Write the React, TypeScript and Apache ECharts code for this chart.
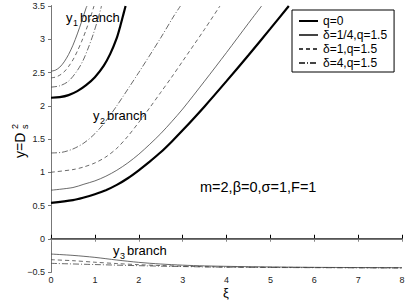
import React, { useEffect, useRef } from "react";
import * as echarts from "echarts";

// Legend names
const names = ["q=0", "δ=1/4,q=1.5", "δ=1,q=1.5", "δ=4,q=1.5"];

// Axis ticks
const xTicks = [0, 1, 2, 3, 4, 5, 6, 7, 8];
const yTicks = [-0.5, 0, 0.5, 1, 1.5, 2, 2.5, 3, 3.5];

// y1 branch
const q0_y1 = [[0, 2.12], [0.2, 2.13], [0.4, 2.16], [0.6, 2.22], [0.8, 2.31], [1.0, 2.43], [1.2, 2.6], [1.35, 2.78], [1.5, 3.02], [1.58, 3.2], [1.66, 3.4], [1.7, 3.5]];
const d14_y1 = [[0, 2.52], [0.1, 2.535], [0.2, 2.58], [0.3, 2.66], [0.4, 2.77], [0.5, 2.91], [0.6, 3.08], [0.7, 3.27], [0.8, 3.47], [0.82, 3.5]];
const d1_y1 = [[0, 2.42], [0.1, 2.43], [0.2, 2.46], [0.3, 2.51], [0.4, 2.59], [0.5, 2.69], [0.6, 2.82], [0.7, 2.97], [0.8, 3.14], [0.9, 3.33], [0.98, 3.5]];
const d4_y1 = [[0, 2.28], [0.2, 2.3], [0.4, 2.37], [0.6, 2.53], [0.73, 2.68], [0.85, 2.87], [0.96, 3.07], [1.05, 3.26], [1.14, 3.47], [1.15, 3.5]];

// y2 branch
const q0_y2 = [[0, 0.54], [0.5, 0.58], [0.75, 0.62], [1.0, 0.67], [1.25, 0.73], [1.5, 0.81], [1.75, 0.91], [2.0, 1.03], [2.25, 1.16], [2.5, 1.3], [2.75, 1.46], [3.0, 1.63], [3.5, 1.99], [4.0, 2.37], [4.5, 2.76], [5.0, 3.16], [5.42, 3.5]];
const d14_y2 = [[0, 0.73], [0.5, 0.77], [0.75, 0.82], [1.0, 0.87], [1.25, 0.94], [1.5, 1.03], [1.75, 1.14], [2.0, 1.27], [2.25, 1.42], [2.5, 1.58], [2.75, 1.76], [3.0, 1.95], [3.5, 2.37], [4.0, 2.8], [4.5, 3.24], [4.8, 3.5]];
const d1_y2 = [[0, 1.0], [0.5, 1.04], [0.75, 1.08], [1.0, 1.14], [1.25, 1.23], [1.5, 1.36], [1.75, 1.54], [2.0, 1.75], [2.25, 1.97], [2.5, 2.2], [2.75, 2.43], [3.0, 2.67], [3.5, 3.15], [3.85, 3.5]];
const d4_y2 = [[0, 1.29], [0.25, 1.3], [0.5, 1.35], [0.75, 1.44], [1.0, 1.58], [1.25, 1.77], [1.5, 2.0], [2.0, 2.5], [2.5, 3.02], [2.8, 3.35], [2.95, 3.5]];

// y3 branch
const d14_y3 = [[0, -0.23], [0.5, -0.25], [1.0, -0.28], [1.5, -0.32], [2.0, -0.355], [2.5, -0.38], [3.0, -0.397], [3.5, -0.408], [4.5, -0.42], [6, -0.43], [8, -0.435]];
const d1_y3 = [[0, -0.315], [0.5, -0.33], [1.0, -0.353], [1.5, -0.373], [2.0, -0.39], [2.5, -0.403], [3.0, -0.413], [4.0, -0.425], [6, -0.432], [8, -0.437]];
const d4_y3 = [[0, -0.37], [1.0, -0.388], [2.0, -0.405], [3.0, -0.418], [4.0, -0.428], [6, -0.435], [8, -0.44]];

// zero line
const zeroLine = [[0, 0], [8, 0]];

const FONT = "Liberation Sans";

export default function App() {
  const ref = useRef<HTMLDivElement>(null);
  useEffect(() => {
    if (!ref.current) return;
    const chart = echarts.init(ref.current, undefined, { renderer: "svg" });

    const thick = { color: "#000", width: 2.2, type: "solid" };
    const thin = { color: "#444", width: 0.8, type: "solid" };
    const dashed = { color: "#444", width: 0.8, type: [4, 3] };
    const dashdot = { color: "#444", width: 0.8, type: [6, 2, 1, 2] };

    const mk = (name: string, data: number[][], ls: any, z = 2) => ({
      type: "line",
      name,
      data,
      symbol: "none",
      showSymbol: false,
      smooth: 0.3,
      lineStyle: ls,
      itemStyle: { color: ls.color },
      color: ls.color,
      z,
      xAxisIndex: 0,
      yAxisIndex: 0,
      silent: true,
    });

    const series: any[] = [
      mk(names[1], d14_y1, thin),
      mk(names[1], d14_y2, thin),
      mk(names[1], d14_y3, thin),
      mk(names[2], d1_y1, dashed),
      mk(names[2], d1_y2, dashed),
      mk(names[2], d1_y3, dashed),
      mk(names[3], d4_y1, dashdot),
      mk(names[3], d4_y2, dashdot),
      mk(names[3], d4_y3, dashdot),
      mk(names[0], q0_y1, thick, 3),
      mk(names[0], q0_y2, thick, 3),
      { ...mk("zero", zeroLine, { color: "#444", width: 1, type: "solid" }), smooth: false },
    ];

    const labelText = (x: number, base: number, sub: string) => [
      { type: "text", x, y: base - 4.3, style: { text: "y", fontSize: 13, fontFamily: FONT, fill: "#000", align: "left", verticalAlign: "middle" } },
      { type: "text", x: x + 7, y: base + 0.5, style: { text: sub, fontSize: 9, fontFamily: FONT, fill: "#000", align: "left", verticalAlign: "middle" } },
      { type: "text", x: x + 14, y: base - 4.3, style: { text: "branch", fontSize: 13, fontFamily: FONT, fill: "#000", align: "left", verticalAlign: "middle" } },
    ];

    chart.setOption({
      animation: false,
      backgroundColor: "#fff",
      grid: { left: 51, right: 7, top: 6, bottom: 28, containLabel: false, outerBoundsMode: "none" },
      legend: {
        data: names.map((n) => ({ name: n })),
        orient: "vertical",
        left: 292,
        top: 10,
        padding: [5, 7, 3, 6],
        itemWidth: 19,
        itemHeight: 10,
        itemGap: 2,
        itemTextGap: 8,
        borderColor: "#000",
        borderWidth: 1,
        borderRadius: 0,
        backgroundColor: "#fff",
        selectedMode: false,
        itemStyle: { opacity: 0 },
        textStyle: { fontSize: 12, lineHeight: 12, color: "#000", fontFamily: FONT },
        z: 10,
      },
      xAxis: [
        {
          type: "value",
          min: xTicks[0],
          max: xTicks[xTicks.length - 1],
          interval: 1,
          position: "bottom",
          axisLine: { lineStyle: { color: "#000", width: 1 } },
          axisTick: { inside: true, length: 4, lineStyle: { color: "#000" } },
          axisLabel: { fontSize: 9, color: "#222", fontFamily: FONT, margin: 3 },
          splitLine: { show: false },
        },
        {
          type: "value",
          min: xTicks[0],
          max: xTicks[xTicks.length - 1],
          interval: 1,
          position: "top",
          axisLine: { lineStyle: { color: "#888", width: 2 } },
          axisTick: { inside: true, length: 3, lineStyle: { color: "#888" } },
          axisLabel: { show: false },
          splitLine: { show: false },
        },
      ],
      yAxis: [
        {
          type: "value",
          min: yTicks[0],
          max: yTicks[yTicks.length - 1],
          interval: 0.5,
          position: "left",
          axisLine: { show: true, lineStyle: { color: "#000", width: 1 } },
          axisTick: { show: true, inside: false, length: 3, lineStyle: { color: "#000" } },
          axisLabel: {
            fontSize: 9,
            color: "#222",
            fontFamily: FONT,
            margin: 6,
            formatter: (v: number) => (v < 0 ? "\u2212" + Math.abs(v) : String(v)),
          },
          splitLine: { show: false },
        },
        {
          type: "value",
          min: yTicks[0],
          max: yTicks[yTicks.length - 1],
          interval: 0.5,
          position: "right",
          axisLine: { show: true, lineStyle: { color: "#777", width: 1 } },
          axisTick: { show: true, inside: true, length: 3, lineStyle: { color: "#777" } },
          axisLabel: { show: false },
          splitLine: { show: false },
        },
      ],
      series,
      graphic: [
        ...labelText(66, 22, "1"),
        ...labelText(93, 120, "2"),
        ...labelText(113, 255, "3"),
        {
          type: "text",
          x: 200,
          y: 186.5,
          style: { text: "m=2,β=0,σ=1,F=1", fontSize: 14.5, fontFamily: FONT, fill: "#000", align: "left", verticalAlign: "middle" },
        },
        {
          type: "text",
          x: 226,
          y: 292.5,
          style: { text: "ξ", fontSize: 13, fontFamily: FONT, fill: "#000", align: "center", verticalAlign: "middle" },
        },
        {
          type: "text",
          x: 20,
          y: 158,
          rotation: Math.PI / 2,
          style: { text: "y=D", fontSize: 14, fontFamily: FONT, fill: "#000", align: "left", verticalAlign: "middle" },
        },
        {
          type: "text",
          x: 15,
          y: 129,
          rotation: Math.PI / 2,
          style: { text: "2", fontSize: 9, fontFamily: FONT, fill: "#000", align: "left", verticalAlign: "middle" },
        },
        {
          type: "text",
          x: 25,
          y: 129,
          rotation: Math.PI / 2,
          style: { text: "s", fontSize: 9, fontFamily: FONT, fill: "#000", align: "left", verticalAlign: "middle" },
        },
      ],
    });
    return () => chart.dispose();
  }, []);
  return <div ref={ref} style={{ position: "fixed", left: 0, top: 0, width: 409, height: 300 }} />;
}
